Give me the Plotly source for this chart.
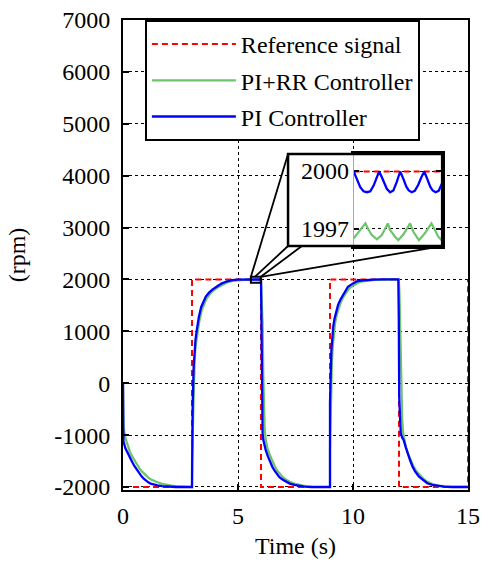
import plotly.graph_objects as go

# ---------------- data ----------------
ref_t = [0, 3, 3, 6, 6, 9, 9, 12, 12, 15, 15]
ref_v = [-2000, -2000, 2000, 2000, -2000, -2000, 2000, 2000, -2000, -2000, 2000]

pi_t = [0, 0.02, 0.1, 0.2, 0.3, 0.4, 0.5, 0.6, 0.7, 0.8, 0.9, 1.0, 1.1, 1.2, 1.35, 1.5, 1.7, 2.0, 2.3,
        3.0, 3.0, 3.03, 3.07, 3.1, 3.15, 3.2, 3.25, 3.3, 3.4, 3.5, 3.6, 3.75, 3.9, 4.1, 4.3, 4.5, 4.75, 5.0, 5.3,
        6.0, 6.02, 6.04, 6.07, 6.1, 6.14, 6.2, 6.3, 6.4, 6.5, 6.6, 6.7, 6.8, 6.95, 7.1, 7.25, 7.45, 7.65, 7.9, 8.2,
        9.0, 9.0, 9.03, 9.06, 9.1, 9.14, 9.2, 9.28, 9.35, 9.45, 9.55, 9.65, 9.78, 9.95, 10.14, 10.35, 10.6, 10.9, 11.3,
        11.97, 11.99, 12.01, 12.05, 12.08, 12.14, 12.2, 12.3, 12.37, 12.48, 12.59, 12.7, 12.87, 13.05, 13.23, 13.45,
        13.66, 13.95, 14.3, 15.0]
pi_v = [0, -1120, -1250, -1350, -1430, -1520, -1600, -1670, -1730, -1790, -1840, -1880, -1910, -1935, -1955,
        -1970, -1985, -1995, -2000,
        -2000, -870, -400, 300, 620, 830, 1000, 1150, 1280, 1470, 1580, 1670, 1750, 1810, 1870, 1925, 1960, 1985, 1995, 2000,
        2000, 1200, -380, -960, -1090, -1180, -1280, -1410, -1520, -1620, -1690, -1760, -1810, -1860, -1905, -1935,
        -1960, -1980, -1992, -2000,
        -2000, -380, 300, 640, 850, 1090, 1250, 1410, 1510, 1610, 1690, 1760, 1860, 1910, 1957, 1980, 1992, 1998, 2000,
        2000, 1283, -259, -700, -965, -1050, -1093, -1240, -1350, -1480, -1608, -1700, -1800, -1870, -1928, -1960,
        -1980, -1993, -2000, -2000]

pirr_t = [0, 0.02, 0.1, 0.2, 0.3, 0.4, 0.5, 0.6, 0.7, 0.8, 0.9, 1.0, 1.1, 1.2, 1.35, 1.5, 1.7, 1.9, 2.1, 2.4, 2.7,
          3.0, 3.0, 3.04, 3.08, 3.12, 3.16, 3.21, 3.26, 3.32, 3.42, 3.52, 3.62, 3.77, 3.92, 4.12, 4.32, 4.52, 4.77,
          5.02, 5.35, 6.0,
          6.02, 6.07, 6.1, 6.13, 6.16, 6.21, 6.28, 6.38, 6.5, 6.6, 6.7, 6.8, 6.95, 7.1, 7.25, 7.45, 7.65, 7.9, 8.2,
          9.0, 9.0, 9.04, 9.08, 9.12, 9.17, 9.22, 9.3, 9.38, 9.48, 9.58, 9.68, 9.82, 10.0, 10.2, 10.4, 10.65, 10.95,
          11.3, 11.99,
          12.02, 12.06, 12.1, 12.14, 12.18, 12.23, 12.3, 12.4, 12.5, 12.62, 12.74, 12.9, 13.08, 13.26, 13.5, 13.75,
          14.05, 14.3, 15.0]
pirr_v = [0, -850, -1050, -1200, -1320, -1410, -1490, -1560, -1630, -1690, -1740, -1785, -1820, -1850, -1885,
          -1910, -1940, -1960, -1975, -1990, -1997,
          -2000, -1500, -700, 0, 480, 720, 900, 1060, 1200, 1400, 1530, 1620, 1710, 1780, 1845, 1900, 1940, 1970,
          1985, 1996, 1997,
          1800, 1150, 200, -600, -900, -1100, -1250, -1380, -1510, -1600, -1680, -1740, -1810, -1860, -1900,
          -1935, -1960, -1980, -1995,
          -2000, -1300, -300, 350, 700, 950, 1150, 1330, 1460, 1570, 1660, 1730, 1820, 1880, 1930, 1960, 1980, 1990,
          1996, 1997,
          1750, 900, 0, -700, -950, -1100, -1230, -1370, -1480, -1590, -1680, -1770, -1850, -1905, -1950, -1975,
          -1990, -1995, -1997]

# zoomed window (inset)
inset_ref_t = [5.56, 5.99]
inset_ref_v = [2000, 2000]
inset_pi_t = [5.560, 5.576, 5.592, 5.608, 5.624, 5.641, 5.657, 5.673, 5.684, 5.697, 5.710, 5.721, 5.737, 5.753,
              5.769, 5.786, 5.802, 5.816, 5.828, 5.842, 5.857, 5.874, 5.889, 5.903, 5.918, 5.932, 5.944, 5.958,
              5.973, 5.990]
inset_pi_v = [2000.0, 1999.53, 1999.17, 1998.96, 1998.91, 1998.96, 1999.26, 1999.70, 2000.0, 1999.70, 1999.35,
              1999.09, 1998.91, 1999.0, 1999.44, 2000.0, 1999.6, 1999.2, 1999.0, 1998.91, 1998.98, 1999.3,
              1999.7, 2000.0, 1999.6, 1999.2, 1999.0, 1998.91, 1998.98, 1999.4]
inset_pirr_t = [5.560, 5.617, 5.629, 5.648, 5.673, 5.697, 5.726, 5.737, 5.761, 5.777, 5.802, 5.834, 5.850,
                5.877, 5.906, 5.938, 5.951, 5.971, 5.990]
inset_pirr_v = [1996.48, 1997.27, 1997.0, 1996.66, 1996.43, 1996.66, 1997.27, 1996.92, 1996.57, 1996.39, 1996.7,
                1997.27, 1996.83, 1996.39, 1996.75, 1997.27, 1997.0, 1996.57, 1996.36]

y_ticks = [-2000, -1000, 0, 1000, 2000, 3000, 4000, 5000, 6000, 7000]
y_ticktext = ["-2000", "-1000", "0", "1000", "2000", "3000", "4000", "5000", "6000", "7000"]
x_ticks = [0, 5, 10, 15]
inset_ticks = [1997, 2000]
inset_ticktext = ["1997", "2000"]

# ---------------- styling ----------------
FONT = "Liberation Serif"
FS = 24
X_RANGE = [0, 15]
Y_RANGE = [-2058, 7000]
INSET_X_RANGE = [5.56, 5.99]
INSET_Y_RANGE = [1996.08, 2000.92]
ZOOM_BOX_Y = [1935, 2050]
INSET_DOM_X = [0.6686, 0.9251]
INSET_DOM_Y = [0.5191, 0.7149]
INSET_BOX_X0 = 0.4784
RED, GREEN, BLUE = "#ff0000", "#6cc46c", "#0000ff"


def to_paper(x, y):
    return ((x - X_RANGE[0]) / (X_RANGE[1] - X_RANGE[0]),
            (y - Y_RANGE[0]) / (Y_RANGE[1] - Y_RANGE[0]))


fig = go.Figure()
fig.add_trace(go.Scatter(x=ref_t, y=ref_v, mode="lines", name="Reference signal", legendgroup="a",
                         line=dict(color=RED, width=2, dash="6px,4px")))
fig.add_trace(go.Scatter(x=pirr_t, y=pirr_v, mode="lines", name="PI+RR Controller", legendgroup="b",
                         line=dict(color=GREEN, width=2.2)))
fig.add_trace(go.Scatter(x=pi_t, y=pi_v, mode="lines", name="PI Controller", legendgroup="c",
                         line=dict(color=BLUE, width=2.3)))

fig.add_trace(go.Scatter(x=inset_ref_t, y=inset_ref_v, mode="lines", xaxis="x2", yaxis="y2", showlegend=False,
                         line=dict(color=RED, width=2, dash="6px,4px")))
fig.add_trace(go.Scatter(x=inset_pirr_t, y=inset_pirr_v, mode="lines", xaxis="x2", yaxis="y2", showlegend=False,
                         line=dict(color=GREEN, width=2.2)))
fig.add_trace(go.Scatter(x=inset_pi_t, y=inset_pi_v, mode="lines", xaxis="x2", yaxis="y2", showlegend=False,
                         line=dict(color=BLUE, width=2.3)))

axis_common = dict(showline=True, linecolor="black", linewidth=2, mirror=True, ticks="inside", ticklen=6,
                   tickcolor="black", tickwidth=1.5, showgrid=True, gridcolor="black", gridwidth=1.3,
                   griddash="dot", zeroline=False, automargin=False, ticklabeloverflow="allow",
                   tickfont=dict(family=FONT, size=FS, color="black"))

fig.update_layout(
    width=481, height=563,
    margin=dict(l=123, r=13, t=20, b=73),
    paper_bgcolor="white", plot_bgcolor="white",
    font=dict(family=FONT, size=FS, color="black"),
    xaxis=dict(range=X_RANGE, tickvals=x_ticks, ticklabelstandoff=3,
               title=dict(text="Time (s)", font=dict(family=FONT, size=FS), standoff=9), **axis_common),
    yaxis=dict(range=Y_RANGE, tickvals=y_ticks, ticktext=y_ticktext, ticklabelstandoff=6,
               title=dict(text="(rpm)", font=dict(family=FONT, size=FS), standoff=22), **axis_common),
    xaxis2=dict(domain=INSET_DOM_X, anchor="y2", range=INSET_X_RANGE, showline=True, linecolor="black",
                linewidth=2.5, mirror=True, ticks="", showticklabels=False, showgrid=False, zeroline=False),
    yaxis2=dict(domain=INSET_DOM_Y, anchor="x2", range=INSET_Y_RANGE, showline=True, linecolor="black",
                linewidth=2.5, mirror="ticks", ticks="inside", ticklen=6, tickcolor="black", tickwidth=1.5,
                tickvals=inset_ticks, showticklabels=False, showgrid=True, gridcolor="black",
                gridwidth=1.3, griddash="dot", zeroline=False),
    legend=dict(x=0.0634, y=1, xanchor="left", yanchor="top", bgcolor="white", bordercolor="black",
                borderwidth=2, font=dict(family=FONT, size=FS), traceorder="grouped", tracegroupgap=2,
                itemwidth=84, entrywidth=222, entrywidthmode="pixels"),
    showlegend=True,
)

shapes = []
# white area behind the inset tick labels + inset outline
shapes.append(dict(type="rect", xref="paper", yref="paper", x0=INSET_BOX_X0, x1=INSET_DOM_X[0],
                   y0=INSET_DOM_Y[0], y1=INSET_DOM_Y[1], fillcolor="white", line=dict(width=0), layer="above"))
shapes.append(dict(type="rect", xref="paper", yref="paper", x0=INSET_BOX_X0, x1=INSET_DOM_X[1],
                   y0=INSET_DOM_Y[0], y1=INSET_DOM_Y[1], line=dict(color="black", width=2.5), layer="above"))
# zoom marker on the main plot
shapes.append(dict(type="rect", xref="x", yref="y", x0=INSET_X_RANGE[0], x1=INSET_X_RANGE[1],
                   y0=ZOOM_BOX_Y[0], y1=ZOOM_BOX_Y[1], line=dict(color="black", width=2), layer="above"))
bx0, by1 = to_paper(INSET_X_RANGE[0], ZOOM_BOX_Y[1])
bx1, _ = to_paper(INSET_X_RANGE[1], ZOOM_BOX_Y[1])
connect = [((bx0, by1), (INSET_BOX_X0, INSET_DOM_Y[1])),
           ((bx0 + 0.4 * (bx1 - bx0), by1), (INSET_BOX_X0, INSET_DOM_Y[0])),
           ((bx1, by1), (INSET_BOX_X0 + 0.04, INSET_DOM_Y[0])),
           ((bx1, by1), (INSET_DOM_X[1], INSET_DOM_Y[0]))]
for (p0, p1) in connect:
    shapes.append(dict(type="line", xref="paper", yref="paper", x0=p0[0], y0=p0[1], x1=p1[0], y1=p1[1],
                       line=dict(color="black", width=1.8), layer="above"))
fig.update_layout(shapes=shapes)

for val, txt in zip(inset_ticks, inset_ticktext):
    fig.add_annotation(xref="paper", yref="y2", x=INSET_DOM_X[0] - 0.008, y=val, text=txt, showarrow=False,
                       xanchor="right", yanchor="middle", font=dict(family=FONT, size=FS, color="black"))

fig.write_html("out.html")
